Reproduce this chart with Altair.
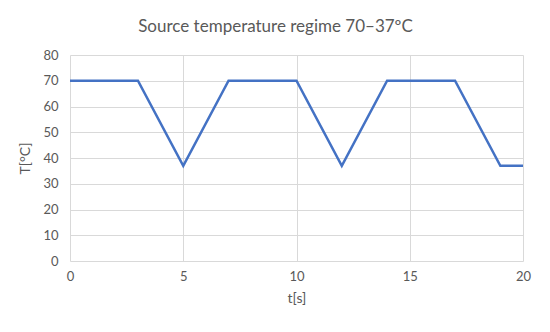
import altair as alt
import pandas as pd

t_values = [0, 3, 5, 7, 10, 12, 14, 17, 19, 20]
temp_values = [70, 70, 37, 70, 70, 37, 70, 70, 37, 37]

df = pd.DataFrame({"t": t_values, "T": temp_values})

FONT = "Lato"
GRAY = "#595959"

chart = alt.Chart(df).mark_line(color="#4472C4", strokeWidth=2.5, strokeJoin="miter").encode(
    x=alt.X("t:Q", scale=alt.Scale(domain=[0, 20], nice=False),
            axis=alt.Axis(title="t[s]", values=[0, 5, 10, 15, 20], grid=True,
                          gridColor="#d9d9d9", domain=False, ticks=False, labelFlush=False,
                          labelPadding=9, titlePadding=8, labelFontSize=13,
                          titleFontSize=14, labelColor=GRAY, titleColor=GRAY,
                          labelFont=FONT, titleFont=FONT, titleFontWeight="normal")),
    y=alt.Y("T:Q", scale=alt.Scale(domain=[0, 80], nice=False),
            axis=alt.Axis(title="T[°C]", values=list(range(0, 81, 10)), grid=True,
                          gridColor="#d9d9d9", domain=False, ticks=False,
                          labelPadding=12, titlePadding=10, labelFontSize=13,
                          titleFontSize=14, labelColor=GRAY, titleColor=GRAY,
                          labelFont=FONT, titleFont=FONT, titleFontWeight="normal")),
).properties(
    width=453,
    height=206,
    title=alt.TitleParams("Source temperature regime 70–37ºC", fontSize=17, font=FONT,
                          fontWeight="normal", color=GRAY, anchor="middle", dx=-21,
                          offset=13),
    autosize=alt.AutoSizeParams(type="none"),
    padding={"left": 62, "top": 47, "right": 19, "bottom": 63},
).configure_view(stroke=None)

chart.save("out.html", embed_options={"renderer": "svg", "actions": False})
